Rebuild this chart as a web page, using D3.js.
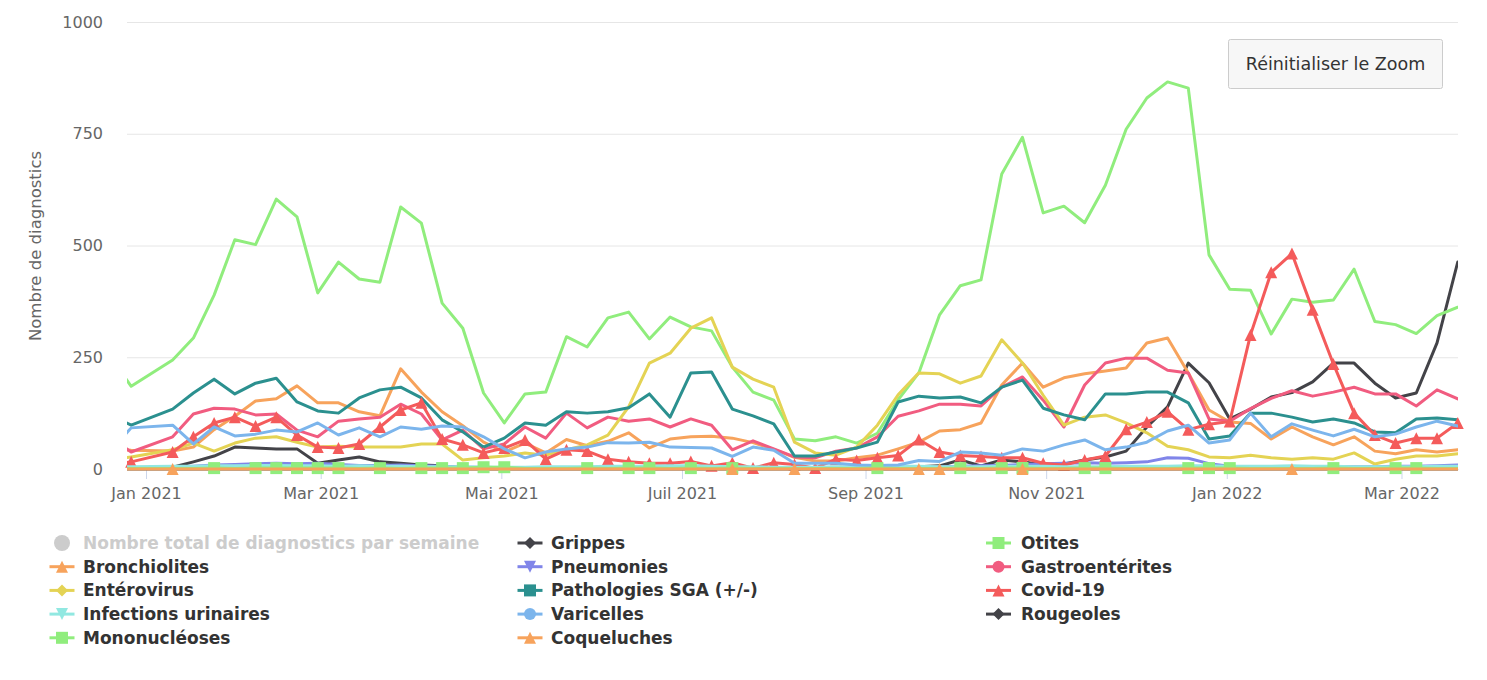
<!DOCTYPE html>
<html>
<head>
<meta charset="utf-8">
<script src="https://cdn.jsdelivr.net/npm/d3@7"></script>
<style>
  body { margin: 0; background: #fff; }
  text { font-family: "DejaVu Sans", Verdana, sans-serif; }
</style>
</head>
<body>
<svg id="chart" width="1487" height="680"></svg>
<script>
// weekly points (Sunday), the week of 3 Jan 2021 is missing in the source
var weeks = ["2020-12-20","2020-12-27","2021-01-10","2021-01-17","2021-01-24","2021-01-31","2021-02-07","2021-02-14","2021-02-21","2021-02-28",
  "2021-03-07","2021-03-14","2021-03-21","2021-03-28","2021-04-04","2021-04-11","2021-04-18","2021-04-25","2021-05-02","2021-05-09",
  "2021-05-16","2021-05-23","2021-05-30","2021-06-06","2021-06-13","2021-06-20","2021-06-27","2021-07-04","2021-07-11","2021-07-18",
  "2021-07-25","2021-08-01","2021-08-08","2021-08-15","2021-08-22","2021-08-29","2021-09-05","2021-09-12","2021-09-19","2021-09-26",
  "2021-10-03","2021-10-10","2021-10-17","2021-10-24","2021-10-31","2021-11-07","2021-11-14","2021-11-21","2021-11-28","2021-12-05",
  "2021-12-12","2021-12-19","2021-12-26","2022-01-02","2022-01-09","2022-01-16","2022-01-23","2022-01-30","2022-02-06","2022-02-13",
  "2022-02-20","2022-02-27","2022-03-06","2022-03-13","2022-03-20"];

var grippes = [0,2,4,16,29,49,47,45,45,13, 20,27,16,13,9,7,3,2,2,2, 1,1,1,1,1,1,1,1,1,1, 1,1,1,1,1,1,2,3,5,7,
  20,7,20,16,9,11,20,27,40,94, 139,237,193,112,134,161,171,195,237,237, 192,159,170,282,463];
var otites = [250,185,244,293,389,513,502,604,564,394, 463,425,418,586,550,371,315,170,103,168, 172,296,273,338,351,291,340,318,309,228,
  172,154,67,63,72,58,80,155,215,345, 410,423,660,742,573,588,551,635,760,830, 866,852,479,402,400,302,380,373,378,447, 330,323,303,343,362];
var bronchiolites = [45,42,40,49,88,118,152,157,186,148, 148,128,119,224,172,128,97,60,38,58, 36,66,52,62,81,47,67,72,73,69,
  59,44,26,18,18,25,31,45,60,85, 88,103,188,237,183,204,213,219,226,282, 293,215,132,105,102,67,94,72,54,72, 40,34,43,38,43];
var pneumonies = [3,3,4,6,9,10,12,13,12,13, 10,8,8,9,7,6,4,4,3,3, 3,3,4,3,3,3,4,4,3,3, 3,3,2,2,2,3,3,4,4,5,
  6,7,8,10,12,13,14,13,14,16, 25,24,12,6,4,3,3,4,5,5, 5,6,6,7,9];
var gastro = [70,38,72,123,136,134,121,123,87,72, 107,112,116,145,123,65,87,45,56,94, 69,125,92,116,107,112,94,112,98,43,
  63,45,27,25,40,47,72,118,130,145, 145,141,183,206,154,94,188,237,248,248, 221,215,112,107,135,158,175,163,172,183, 168,168,141,177,157];
var enterovirus = [20,27,43,58,40,58,69,72,60,49, 51,49,49,49,56,56,20,25,29,36, 31,43,54,76,139,237,259,315,338,228,
  201,183,60,36,31,49,98,166,215,213, 192,208,289,237,165,98,116,121,103,81, 51,43,27,25,31,25,22,25,22,36, 11,22,29,29,34];
var pathoSGA = [120,98,134,170,201,168,192,203,150,130, 125,159,177,183,159,110,83,49,69,103, 98,128,125,128,137,168,116,215,217,134,
  119,101,29,29,38,47,60,150,163,159, 161,148,183,199,136,121,110,168,168,172, 172,148,67,74,125,125,116,105,112,103, 83,81,112,114,110];
var covid = [10,16,38,72,103,116,96,116,76,49, 47,56,94,132,148,67,54,36,47,65, 22,43,40,22,16,13,13,17,7,14,
  2,14,10,2,22,19,25,30,66,38, 30,28,25,25,13,9,20,29,89,105, 128,88,100,106,300,440,482,356,235,125, 76,58,69,69,103];
var infUrinaires = [5,5,6,6,7,7,8,8,7,7, 6,7,6,6,5,5,5,4,4,4, 5,5,5,6,6,6,7,7,6,5, 5,4,4,4,5,5,6,6,6,5,
  5,5,6,6,6,5,5,5,6,6, 6,7,7,6,6,6,7,6,6,5, 5,5,5,6,6];
var varicelles = [40,92,98,56,94,74,78,87,83,103, 76,92,72,94,89,96,94,72,45,25, 38,45,49,59,58,60,49,48,47,28,
  49,42,13,13,13,9,8,9,19,17, 38,36,31,45,40,54,65,43,49,60, 85,98,58,65,125,72,101,87,74,89, 72,78,94,107,96];
var rougeoles = [0,0,0,0,0,0,0,0,0,0, 0,0,0,0,0,0,0,0,0,0, 0,0,0,0,0,0,0,0,0,0, 0,0,0,0,0,0,0,0,0,0,
  0,0,0,0,0,0,0,0,0,0, 0,0,0,0,0,0,0,0,0,0, 0,0,0,0,0];
var mononucleoses = [1,1,1,1,2,1,2,2,2,2, 2,1,2,1,2,2,2,4,4,1, 1,1,2,1,2,2,1,2,1,2, 1,1,1,1,1,1,2,1,1,1,
  2,1,2,2,1,1,2,2,1,1, 1,2,2,2,1,1,1,1,2,1, 1,2,2,1,1];
var coqueluches = [0,0,0,0,0,0,0,0,0,0, 0,0,0,0,0,0,0,0,0,0, 0,0,0,0,0,0,0,0,0,0, 0,0,0,0,0,0,0,0,0,0,
  0,0,0,0,0,0,0,0,0,0, 0,0,0,0,0,0,0,0,0,0, 0,0,0,0,0];

// weeks where a marker shows on the sparse series
var monoMarks = [4,6,7,8,9,10,12,14,15,16,17,18,22,24,25,27,29,36,40,42,43,46,47,51,52,53,58,61,62];
var coqMarks = [2,29,32,38,39,43,56];

var yTicks = [0, 250, 500, 750, 1000];
var xTickDates = ["2021-01-01","2021-03-01","2021-05-01","2021-07-01","2021-09-01","2021-11-01","2022-01-01","2022-03-01"];
var xTickLabels = ["Jan 2021","Mar 2021","Mai 2021","Juil 2021","Sep 2021","Nov 2021","Jan 2022","Mar 2022"];

// legend order (3 columns, row by row)
var series = [
  {name: "Nombre total de diagnostics par semaine", color: "#cccccc", symbol: "circle", values: null, hidden: true},
  {name: "Grippes", color: "#434348", symbol: "diamond", values: grippes},
  {name: "Otites", color: "#90ed7d", symbol: "square", values: otites},
  {name: "Bronchiolites", color: "#f7a35c", symbol: "triangle", values: bronchiolites},
  {name: "Pneumonies", color: "#8085e9", symbol: "triangle-down", values: pneumonies},
  {name: "Gastroentérites", color: "#f15c80", symbol: "circle", values: gastro},
  {name: "Entérovirus", color: "#e4d354", symbol: "diamond", values: enterovirus},
  {name: "Pathologies SGA (+/-)", color: "#2b908f", symbol: "square", values: pathoSGA},
  {name: "Covid-19", color: "#f45b5b", symbol: "triangle", values: covid, marks: "all"},
  {name: "Infections urinaires", color: "#91e8e1", symbol: "triangle-down", values: infUrinaires},
  {name: "Varicelles", color: "#7cb5ec", symbol: "circle", values: varicelles},
  {name: "Rougeoles", color: "#434348", symbol: "diamond", values: rougeoles},
  {name: "Mononucléoses", color: "#90ed7d", symbol: "square", values: mononucleoses, marks: monoMarks},
  {name: "Coqueluches", color: "#f7a35c", symbol: "triangle", values: coqueluches, marks: coqMarks}
];

(function() {
  var plotLeft = 127, plotRight = 1458, plotTop = 22, plotBottom = 469;
  var svg = d3.select("#chart");

  var x = d3.scaleUtc()
    .domain([Date.UTC(2020, 11, 25, 14), Date.UTC(2022, 2, 20, 2)])
    .range([plotLeft, plotRight]);
  var y = d3.scaleLinear().domain([0, 1000]).range([plotBottom, plotTop]);
  var dates = weeks.map(function(s) { return new Date(s); });

  function symbolPath(type, cx, cy, r) {
    if (type === "square") return "M" + (cx - r) + "," + (cy - r) + "h" + (2 * r) + "v" + (2 * r) + "h" + (-2 * r) + "Z";
    if (type === "triangle") return "M" + cx + "," + (cy - r) + "L" + (cx + r) + "," + (cy + r) + "L" + (cx - r) + "," + (cy + r) + "Z";
    if (type === "triangle-down") return "M" + (cx - r) + "," + (cy - r) + "L" + (cx + r) + "," + (cy - r) + "L" + cx + "," + (cy + r) + "Z";
    if (type === "diamond") return "M" + cx + "," + (cy - r) + "L" + (cx + r) + "," + cy + "L" + cx + "," + (cy + r) + "L" + (cx - r) + "," + cy + "Z";
    return "M" + (cx - r) + "," + cy + "a" + r + "," + r + " 0 1,0 " + (2 * r) + ",0a" + r + "," + r + " 0 1,0 " + (-2 * r) + ",0Z";
  }

  // y axis with grid
  var yAxis = svg.append("g")
    .attr("transform", "translate(" + plotLeft + ",0)")
    .call(d3.axisLeft(y).tickValues(yTicks).tickFormat(d3.format("d"))
      .tickSize(-(plotRight - plotLeft)).tickPadding(24));
  yAxis.select(".domain").remove();
  yAxis.selectAll(".tick line").attr("stroke", "#e6e6e6");
  yAxis.selectAll(".tick text").attr("fill", "#666666").style("font-size", "16px");

  svg.append("text")
    .attr("transform", "translate(36,246) rotate(-90)")
    .attr("text-anchor", "middle")
    .attr("dominant-baseline", "middle")
    .attr("fill", "#666666")
    .style("font-size", "16.5px")
    .text("Nombre de diagnostics");

  // x axis
  var xAxis = svg.append("g")
    .attr("transform", "translate(0," + plotBottom + ")")
    .call(d3.axisBottom(x)
      .tickValues(xTickDates.map(function(s) { return new Date(s); }))
      .tickFormat(function(d, i) { return xTickLabels[i]; })
      .tickSizeInner(10).tickSizeOuter(0).tickPadding(9));
  xAxis.select(".domain").attr("stroke", "#ccd6eb");
  xAxis.selectAll(".tick line").attr("stroke", "#ccd6eb");
  xAxis.selectAll(".tick text").attr("fill", "#666666").style("font-size", "16px");

  // series
  svg.append("clipPath").attr("id", "plot-clip")
    .append("rect").attr("x", plotLeft).attr("y", 0)
    .attr("width", plotRight - plotLeft).attr("height", plotBottom + 10);

  var line = d3.line()
    .x(function(d) { return x(d.date); })
    .y(function(d) { return y(d.value); });

  var plot = svg.append("g");
  series.forEach(function(s) {
    if (!s.values) return;
    var pts = s.values.map(function(v, i) { return {date: dates[i], value: v, i: i}; });
    var g = plot.append("g");
    g.append("path")
      .datum(pts)
      .attr("clip-path", "url(#plot-clip)")
      .attr("fill", "none")
      .attr("stroke", s.color)
      .attr("stroke-width", 3)
      .attr("stroke-linejoin", "round")
      .attr("stroke-linecap", "round")
      .attr("d", line);
    if (s.marks) {
      var shown = pts.filter(function(p) {
        return (s.marks === "all" ? p.i > 0 : s.marks.indexOf(p.i) >= 0);
      });
      g.selectAll("path.mark").data(shown).enter().append("path")
        .attr("class", "mark")
        .attr("fill", s.color)
        .attr("d", function(p) { return symbolPath(s.symbol, x(p.date), y(p.value), 6); });
    }
  });

  // reset zoom button
  var btn = svg.append("g");
  btn.append("rect")
    .attr("x", 1228.5).attr("y", 39.5).attr("width", 214).attr("height", 49).attr("rx", 2)
    .attr("fill", "#f7f7f7").attr("stroke", "#cccccc");
  btn.append("text")
    .attr("x", 1335.5).attr("y", 64)
    .attr("text-anchor", "middle").attr("dominant-baseline", "central")
    .attr("fill", "#333333").style("font-size", "17.5px")
    .text("Réinitialiser le Zoom");

  // legend
  var colSym = [62, 530, 998.5], colText = [83, 551, 1021];
  var legend = svg.append("g");
  series.forEach(function(s, i) {
    var col = i % 3, row = Math.floor(i / 3);
    var cy = 543 + row * 23.7, cx = colSym[col];
    var item = legend.append("g");
    if (s.hidden) {
      item.append("circle").attr("cx", cx).attr("cy", cy).attr("r", 8).attr("fill", "#cccccc");
    } else {
      item.append("line")
        .attr("x1", cx - 12.5).attr("x2", cx + 12.5).attr("y1", cy).attr("y2", cy)
        .attr("stroke", s.color).attr("stroke-width", 3);
      item.append("path").attr("fill", s.color).attr("d", symbolPath(s.symbol, cx, cy, 6));
    }
    item.append("text")
      .attr("x", colText[col]).attr("y", cy)
      .attr("dominant-baseline", "central")
      .attr("fill", s.hidden ? "#cccccc" : "#333333")
      .style("font-size", "17px").style("font-weight", "bold")
      .text(s.name);
  });
})();
</script>
</body>
</html>
